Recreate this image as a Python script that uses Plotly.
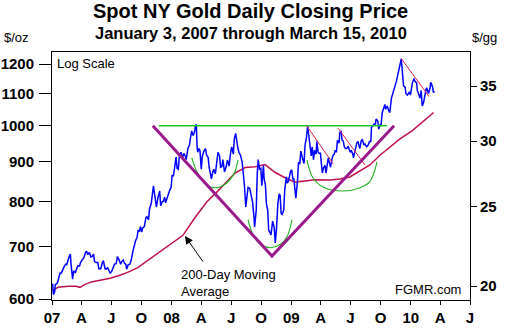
import plotly.graph_objects as go

# ---------------- data ----------------
gold_dates = [
    "2007-01-03","2007-01-05","2007-01-09","2007-01-11","2007-01-16","2007-01-19","2007-01-23","2007-01-26",
    "2007-01-30","2007-02-02","2007-02-07","2007-02-12","2007-02-15","2007-02-21","2007-02-26","2007-02-28",
    "2007-03-02","2007-03-05","2007-03-08","2007-03-13","2007-03-16","2007-03-21","2007-03-26","2007-03-29",
    "2007-04-03","2007-04-09","2007-04-13","2007-04-17","2007-04-20","2007-04-25","2007-04-30","2007-05-03",
    "2007-05-08","2007-05-11","2007-05-16","2007-05-21","2007-05-24","2007-05-30","2007-06-04","2007-06-07",
    "2007-06-12","2007-06-15","2007-06-20","2007-06-25","2007-06-28","2007-07-03","2007-07-06","2007-07-11",
    "2007-07-16","2007-07-20","2007-07-25","2007-07-30","2007-08-02","2007-08-07","2007-08-10","2007-08-15",
    "2007-08-17","2007-08-22","2007-08-27","2007-08-31","2007-09-05","2007-09-10","2007-09-13","2007-09-18",
    "2007-09-21","2007-09-25","2007-09-28","2007-10-02","2007-10-05","2007-10-10","2007-10-15","2007-10-18",
    "2007-10-23","2007-10-26","2007-10-31","2007-11-02","2007-11-07","2007-11-09","2007-11-13","2007-11-16",
    "2007-11-21","2007-11-26","2007-11-29","2007-12-04","2007-12-07","2007-12-11","2007-12-14","2007-12-18",
    "2007-12-21","2007-12-27","2007-12-31",
    "2008-01-03","2008-01-07","2008-01-11","2008-01-15","2008-01-18","2008-01-22","2008-01-25","2008-01-30",
    "2008-02-04","2008-02-08","2008-02-12","2008-02-15","2008-02-20","2008-02-25","2008-02-28","2008-03-03",
    "2008-03-07","2008-03-12","2008-03-14","2008-03-17","2008-03-19","2008-03-21","2008-03-25","2008-03-28",
    "2008-04-01","2008-04-04","2008-04-09","2008-04-14","2008-04-17","2008-04-22","2008-04-25","2008-04-30",
    "2008-05-02","2008-05-06","2008-05-09","2008-05-14","2008-05-19","2008-05-22","2008-05-27","2008-05-30",
    "2008-06-03","2008-06-06","2008-06-11","2008-06-16","2008-06-20","2008-06-25","2008-06-30","2008-07-03",
    "2008-07-08","2008-07-11","2008-07-15","2008-07-18","2008-07-22","2008-07-25","2008-07-30","2008-08-04",
    "2008-08-07","2008-08-11","2008-08-15","2008-08-19","2008-08-22","2008-08-27","2008-09-02","2008-09-05",
    "2008-09-09","2008-09-11","2008-09-16","2008-09-17","2008-09-19","2008-09-22","2008-09-26","2008-09-30",
    "2008-10-03","2008-10-08","2008-10-10","2008-10-14","2008-10-17","2008-10-21","2008-10-24","2008-10-28",
    "2008-10-31","2008-11-05","2008-11-10","2008-11-13","2008-11-17","2008-11-21","2008-11-25","2008-11-28",
    "2008-12-01","2008-12-04","2008-12-09","2008-12-12","2008-12-17","2008-12-19","2008-12-23","2008-12-30",
    "2009-01-02","2009-01-06","2009-01-09","2009-01-14","2009-01-15","2009-01-20","2009-01-23","2009-01-27",
    "2009-01-30","2009-02-04","2009-02-09","2009-02-12","2009-02-17","2009-02-20","2009-02-24","2009-02-27",
    "2009-03-03","2009-03-06","2009-03-10","2009-03-13","2009-03-18","2009-03-20","2009-03-24","2009-03-27",
    "2009-03-31","2009-04-03","2009-04-06","2009-04-09","2009-04-14","2009-04-17","2009-04-21","2009-04-24",
    "2009-04-28","2009-05-01","2009-05-05","2009-05-08","2009-05-12","2009-05-15","2009-05-19","2009-05-22",
    "2009-05-27","2009-05-29","2009-06-02","2009-06-05","2009-06-09","2009-06-12","2009-06-16","2009-06-19",
    "2009-06-24","2009-06-30","2009-07-03","2009-07-08","2009-07-10","2009-07-15","2009-07-20","2009-07-24",
    "2009-07-29","2009-08-03","2009-08-06","2009-08-11","2009-08-14","2009-08-19","2009-08-24","2009-08-28",
    "2009-09-01","2009-09-03","2009-09-08","2009-09-11","2009-09-15","2009-09-17","2009-09-22","2009-09-25",
    "2009-09-30","2009-10-02","2009-10-06","2009-10-09","2009-10-14","2009-10-16","2009-10-21","2009-10-26",
    "2009-10-29","2009-11-03","2009-11-06","2009-11-10","2009-11-13","2009-11-18","2009-11-23","2009-11-26",
    "2009-12-02","2009-12-03","2009-12-07","2009-12-10","2009-12-15","2009-12-17","2009-12-22","2009-12-28",
    "2009-12-31",
    "2010-01-04","2010-01-06","2010-01-11","2010-01-14","2010-01-19","2010-01-21","2010-01-26","2010-01-29",
    "2010-02-02","2010-02-05","2010-02-09","2010-02-12","2010-02-17","2010-02-19","2010-02-24","2010-03-01",
    "2010-03-03","2010-03-05","2010-03-09","2010-03-11","2010-03-15",
]
gold_close = [
    628, 608, 612, 626, 628, 632, 642, 648,
    648, 653, 660, 665, 664, 677, 685, 666,
    645, 636, 652, 648, 654, 662, 661, 668,
    673, 679, 688, 691, 684, 688, 679, 680,
    685, 670, 668, 668, 656, 656, 668, 672,
    656, 655, 658, 650, 647, 652, 658, 665,
    666, 680, 673, 665, 670, 673, 667, 664,
    655, 664, 665, 673, 690, 708, 712, 720,
    735, 732, 743, 731, 740, 743, 763, 765,
    758, 783, 795, 806, 838, 826, 804, 787,
    810, 825, 790, 800, 800, 810, 797, 807,
    812, 828, 834,
    865, 862, 895, 912, 882, 880, 915, 925,
    910, 922, 915, 905, 935, 945, 965, 985,
    972, 984, 1000, 1004, 945, 925, 935, 930,
    880, 913, 928, 935, 918, 911, 885, 865,
    855, 872, 880, 868, 902, 925, 915, 885,
    887, 905, 873, 886, 904, 888, 926, 940,
    920, 962, 978, 955, 936, 925, 917, 898,
    877, 838, 787, 812, 834, 832, 805, 798,
    765, 742, 780, 865, 868, 905, 880, 882,
    838, 890, 855, 840, 795, 780, 735, 730,
    725, 755, 740, 708, 740, 795, 818, 815,
    772, 770, 780, 828, 860, 845, 848, 875,
    878, 855, 855, 815, 808, 850, 898, 893,
    928, 910, 895, 945, 970, 1000, 965, 940,
    915, 940, 905, 930, 920, 955, 925, 922,
    922, 895, 870, 882, 890, 870, 890, 910,
    895, 885, 905, 915, 920, 930, 925, 958,
    950, 980, 985, 960, 955, 940, 935, 935,
    940, 925, 930, 920, 910, 935, 950, 955,
    935, 958, 960, 945, 948, 940, 945, 955,
    955, 995, 1000, 1005, 1005, 1020, 1015, 990,
    1005, 1000, 1040, 1050, 1065, 1050, 1060, 1045,
    1040, 1085, 1095, 1105, 1115, 1140, 1165, 1185,
    1210, 1218, 1165, 1125, 1120, 1100, 1095, 1105,
    1095,
    1120, 1135, 1150, 1140, 1135, 1110, 1095, 1085,
    1110, 1060, 1070, 1090, 1115, 1118, 1100, 1118,
    1137, 1133, 1120, 1105, 1105,
]

ma_dates = [
    "2007-01-03","2007-01-20","2007-02-20","2007-03-15","2007-03-28","2007-04-10","2007-05-01","2007-05-28",
    "2007-06-28","2007-07-25","2007-08-20","2007-09-20","2007-10-27","2007-12-18","2008-02-05","2008-03-13",
    "2008-04-19","2008-05-19","2008-06-25","2008-07-13","2008-08-13","2008-09-12","2008-10-13","2008-11-12",
    "2008-12-13","2009-01-12","2009-02-12","2009-03-14","2009-04-29","2009-05-30","2009-06-29","2009-07-30",
    "2009-08-29","2009-09-29","2009-10-29","2009-11-29","2010-01-05","2010-02-04","2010-03-12",
]
ma_values = [
    616, 621, 623, 623, 621, 626, 631, 634,
    638, 643, 649, 658, 675, 700, 724, 763,
    800, 823, 853, 870, 884, 886, 892, 872,
    858, 847, 850, 853, 852, 855, 860, 875,
    891, 917, 940, 962, 985, 1010, 1040,
]

resist_dates = ["2007-11-23", "2009-10-20"]
resist_values = [1000, 1000]

v_dates = ["2007-11-05", "2008-11-03", "2009-11-11"]
v_values = [1000, 681, 1000]

trend1_dates = ["2009-02-17", "2009-05-09"]
trend1_values = [1000, 894]
trend2_dates = ["2009-05-24", "2009-08-14"]
trend2_values = [993, 891]
trend3_dates = ["2009-12-02", "2010-02-26"]
trend3_values = [1221, 1090]

cup1_dates = ["2008-03-03","2008-03-19","2008-04-12","2008-05-13","2008-06-15","2008-07-10","2008-07-22"]
cup1_values = [910, 873, 843, 833, 843, 868, 904]
cup2_dates = ["2008-08-22","2008-09-06","2008-09-27","2008-10-28","2008-11-27","2008-12-19","2009-01-03"]
cup2_values = [758, 725, 706, 698, 704, 721, 758]
cup3_dates = ["2009-02-18","2009-03-08","2009-04-08","2009-06-08","2009-07-30","2009-08-29","2009-09-20"]
cup3_values = [904, 858, 835, 825, 833, 848, 899]

x_tick_dates = ["2007-01-01","2007-04-01","2007-07-01","2007-10-01","2008-01-01","2008-04-01","2008-07-01",
                "2008-10-01","2009-01-01","2009-04-01","2009-07-01","2009-10-01","2010-01-01","2010-04-01",
                "2010-07-01"]
x_tick_text = ["07","A","J","O","08","A","J","O","09","A","J","O","10","A","J"]
left_ticks = [600, 700, 800, 900, 1000, 1100, 1200]
right_ticks = [20, 25, 30, 35]

# ---------------- styling ----------------
FONT = "Arial, Liberation Sans, sans-serif"
BLUE = "#0000FF"
MA_COL = "#C0104A"
PURPLE = "#9A1A8C"
GREEN = "#1EC81E"
ARC_GREEN = "#22B022"
RED = "#E02050"

fig = go.Figure()

def line(xs, ys, color, width, shape="linear"):
    fig.add_trace(go.Scatter(x=xs, y=ys, mode="lines", hoverinfo="skip",
                             line=dict(color=color, width=width, shape=shape),
                             showlegend=False))

line(ma_dates, ma_values, MA_COL, 1.5)
line(cup1_dates, cup1_values, ARC_GREEN, 1.1, "spline")
line(cup2_dates, cup2_values, ARC_GREEN, 1.1, "spline")
line(cup3_dates, cup3_values, ARC_GREEN, 1.1, "spline")
line(gold_dates, gold_close, BLUE, 1.5)
line(resist_dates, resist_values, GREEN, 1.4)
line(trend1_dates, trend1_values, RED, 1)
line(trend2_dates, trend2_values, RED, 1)
line(trend3_dates, trend3_values, RED, 1)
line(v_dates, v_values, PURPLE, 3)

# invisible trace for the right axis
fig.add_trace(go.Scatter(x=[gold_dates[0]], y=[right_ticks[0]], yaxis="y2", mode="markers",
                         marker=dict(opacity=0), hoverinfo="skip", showlegend=False))

axis_common = dict(showline=True, linecolor="black", linewidth=1, ticks="outside",
                   tickcolor="black", showgrid=False, zeroline=False, automargin=False,
                   tickfont=dict(family=FONT, size=15, color="black", weight="bold"))

fig.update_layout(
    template="none",
    width=505, height=329,
    margin=dict(l=52, r=35, t=52, b=29, pad=0),
    paper_bgcolor="white", plot_bgcolor="white",
    xaxis=dict(type="date", range=["2007-01-01", "2010-07-01"], tickvals=x_tick_dates,
               ticktext=x_tick_text, ticklen=4, mirror=True, **axis_common),
    yaxis=dict(type="log", range=[2.77687, 3.09455], tickvals=left_ticks,
               ticktext=[str(v) for v in left_ticks], ticklen=12, ticklabelstandoff=2,
               mirror=True, **axis_common),
    yaxis2=dict(type="log", range=[1.28402, 1.58539], tickvals=right_ticks,
                ticktext=[str(v) for v in right_ticks], overlaying="y", side="right",
                ticklen=6, **axis_common),
    showlegend=False,
)

ann = []
ann.append(dict(text="<b>Spot NY Gold Daily Closing Price</b>", xref="paper", yref="paper",
                x=0.476, y=1.165, xanchor="center", yanchor="middle", showarrow=False,
                font=dict(family=FONT, size=20, color="black")))
ann.append(dict(text="<b>January 3, 2007 through March 15, 2010</b>", xref="paper", yref="paper",
                x=0.476, y=1.075, xanchor="center", yanchor="middle", showarrow=False,
                font=dict(family=FONT, size=16.5, color="black")))
ann.append(dict(text="$/oz", xref="paper", yref="paper", x=-0.119, y=1.06,
                xanchor="left", yanchor="middle", showarrow=False,
                font=dict(family=FONT, size=13, color="black")))
ann.append(dict(text="$/gg", xref="paper", yref="paper", x=1.0, y=1.06,
                xanchor="left", yanchor="middle", showarrow=False,
                font=dict(family=FONT, size=13, color="black")))
ann.append(dict(text="Log Scale", xref="paper", yref="paper", x=0.006, y=0.952,
                xanchor="left", yanchor="middle", showarrow=False,
                font=dict(family=FONT, size=13, color="black")))
ann.append(dict(text="200-Day Moving<br>Average", xref="paper", yref="paper", x=0.304, y=0.14,
                xanchor="left", yanchor="top", align="left", showarrow=False,
                font=dict(family=FONT, size=13, color="black")))
ann.append(dict(text="FGMR.com", xref="paper", yref="paper", x=0.983, y=0.044,
                xanchor="right", yanchor="middle", showarrow=False,
                font=dict(family=FONT, size=13, color="black")))
ann.append(dict(text="", xref="paper", yref="paper", x=0.318, y=0.258, ax=19, ay=27,
                showarrow=True, arrowhead=2, arrowsize=1.6, arrowwidth=1, arrowcolor="black"))
fig.update_layout(annotations=ann)

fig.write_html("out.html")
